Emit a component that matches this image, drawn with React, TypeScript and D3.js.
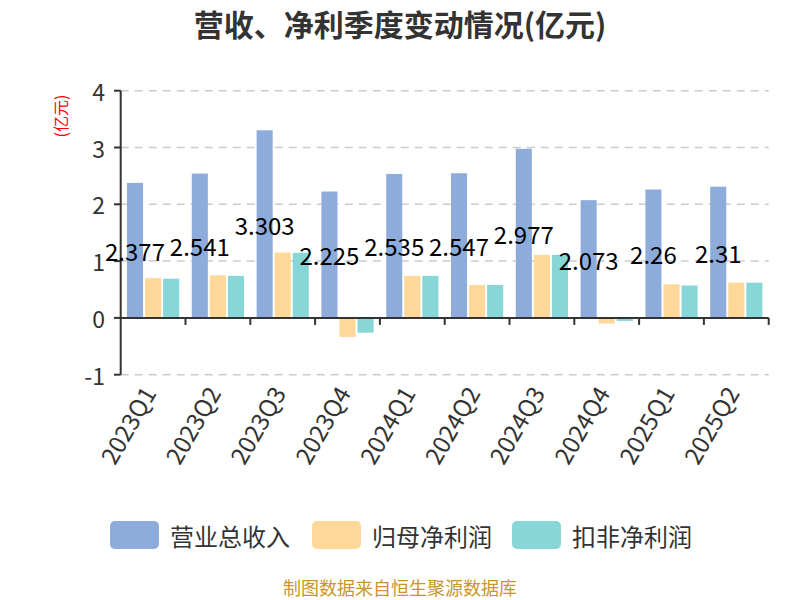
import * as d3 from "d3"
import { useEffect, useRef } from "react"

const quarters = ["2023Q1", "2023Q2", "2023Q3", "2023Q4", "2024Q1", "2024Q2", "2024Q3", "2024Q4", "2025Q1", "2025Q2"]
const seriesNames = ["营业总收入", "归母净利润", "扣非净利润"]
const revenue = [2.377, 2.541, 3.303, 2.225, 2.535, 2.547, 2.977, 2.073, 2.26, 2.31]
const netProfit = [0.70, 0.75, 1.15, -0.335, 0.74, 0.58, 1.11, -0.10, 0.59, 0.62]
const deductedProfit = [0.69, 0.74, 1.147, -0.26, 0.74, 0.58, 1.11, -0.053, 0.57, 0.62]
const yTicks = [-1, 0, 1, 2, 3, 4]
const colors = ["#8eacdb", "#fed898", "#87d6d8"]

const FONT = "'Noto Sans CJK SC', 'Noto Sans', sans-serif"

export default function App() {
    const ref = useRef<SVGSVGElement | null>(null)

    useEffect(() => {
        const svg = d3.select(ref.current)
        svg.selectAll("*").remove()
        const width = 800
        const height = 600
        svg.attr("width", width).attr("height", height)
            .attr("viewBox", [0, 0, width, height].toString())
            .style("font-family", FONT)

        const series = [revenue, netProfit, deductedProfit]

        const x = d3.scaleBand<string>().domain(quarters).range([120.7, 768.7])
        const inner = d3.scaleBand<number>()
            .domain([0, 1, 2])
            .range([6.3, x.bandwidth() - 6.3])
            .paddingInner(0.11)
        const y = d3.scaleLinear().domain([-1, 4]).range([374.7, 90.7])

        // title
        svg.append("text")
            .attr("x", 400).attr("y", 23)
            .attr("text-anchor", "middle")
            .attr("dominant-baseline", "central")
            .attr("font-size", 30).attr("font-weight", "bold")
            .attr("fill", "#333")
            .text("营收、净利季度变动情况(亿元)")

        // grid
        svg.append("g")
            .selectAll("line")
            .data(yTicks.filter(t => t !== 0))
            .join("line")
            .attr("x1", 120.7).attr("x2", 768.7)
            .attr("y1", d => y(d)).attr("y2", d => y(d))
            .attr("stroke", "#ccc").attr("stroke-width", 1.5)
            .attr("stroke-dasharray", "8,6")

        // bars
        series.forEach((vals, si) => {
            svg.append("g")
                .selectAll("rect")
                .data(vals)
                .join("rect")
                .attr("x", (d, i) => x(quarters[i])! + inner(si)!)
                .attr("width", inner.bandwidth())
                .attr("y", d => y(Math.max(0, d)))
                .attr("height", d => Math.abs(y(d) - y(0)))
                .attr("fill", colors[si])
        })

        // y axis
        const yAxis = svg.append("g")
        yAxis.append("line")
            .attr("x1", 120.7).attr("x2", 120.7)
            .attr("y1", y(4)).attr("y2", y(-1))
            .attr("stroke", "#333").attr("stroke-width", 2)
        yAxis.selectAll("line.tick")
            .data(yTicks)
            .join("line")
            .attr("class", "tick")
            .attr("x1", 114).attr("x2", 120.7)
            .attr("y1", d => y(d)).attr("y2", d => y(d))
            .attr("stroke", "#333").attr("stroke-width", 2)
        yAxis.selectAll("text")
            .data(yTicks)
            .join("text")
            .attr("x", 105).attr("y", d => y(d))
            .attr("text-anchor", "end")
            .attr("dominant-baseline", "central")
            .attr("font-size", 23).attr("fill", "#333")
            .text(d => String(d))

        svg.append("text")
            .attr("transform", `translate(60,116) rotate(-90)`)
            .attr("text-anchor", "middle")
            .attr("dominant-baseline", "central")
            .attr("font-size", 16).attr("fill", "red")
            .text("(亿元)")

        // x axis
        const xAxis = svg.append("g")
        xAxis.append("line")
            .attr("x1", 120.7).attr("x2", 768.7)
            .attr("y1", y(0)).attr("y2", y(0))
            .attr("stroke", "#333").attr("stroke-width", 2)
        const bounds = quarters.map(q => x(q)! + x.bandwidth())
        xAxis.selectAll("line.tick")
            .data(bounds)
            .join("line")
            .attr("class", "tick")
            .attr("x1", d => d).attr("x2", d => d)
            .attr("y1", y(0)).attr("y2", y(0) + 7)
            .attr("stroke", "#333").attr("stroke-width", 2)
        xAxis.selectAll("text")
            .data(quarters)
            .join("text")
            .attr("transform", d => `translate(${x(d)! + x.bandwidth() / 2 - 5},${388}) rotate(-60)`)
            .attr("text-anchor", "end")
            .attr("dominant-baseline", "central")
            .attr("font-size", 24).attr("fill", "#333")
            .text(d => d)

        // value labels for revenue
        svg.append("g")
            .selectAll("text")
            .data(revenue)
            .join("text")
            .attr("x", (d, i) => x(quarters[i])! + inner(0)! + inner.bandwidth() / 2)
            .attr("y", d => y(d / 2))
            .attr("text-anchor", "middle")
            .attr("dominant-baseline", "central")
            .attr("font-size", 24).attr("fill", "#000")
            .text(d => String(d))

        // legend
        const legendX = [110, 312, 512]
        const legend = svg.append("g")
            .selectAll("g")
            .data(seriesNames)
            .join("g")
            .attr("transform", (d, i) => `translate(${legendX[i]},521)`)
        legend.append("rect")
            .attr("width", 49).attr("height", 28).attr("rx", 5)
            .attr("fill", (d, i) => colors[i])
        legend.append("text")
            .attr("x", 60).attr("y", 14)
            .attr("dominant-baseline", "central")
            .attr("font-size", 24).attr("fill", "#333")
            .text(d => d)

        svg.append("text")
            .attr("x", 400).attr("y", 587)
            .attr("text-anchor", "middle")
            .attr("dominant-baseline", "central")
            .attr("font-size", 18).attr("fill", "#c9952b")
            .text("制图数据来自恒生聚源数据库")
    }, [])

    return <svg ref={ref} style={{ position: "absolute", left: 0, top: 0 }} />
}
